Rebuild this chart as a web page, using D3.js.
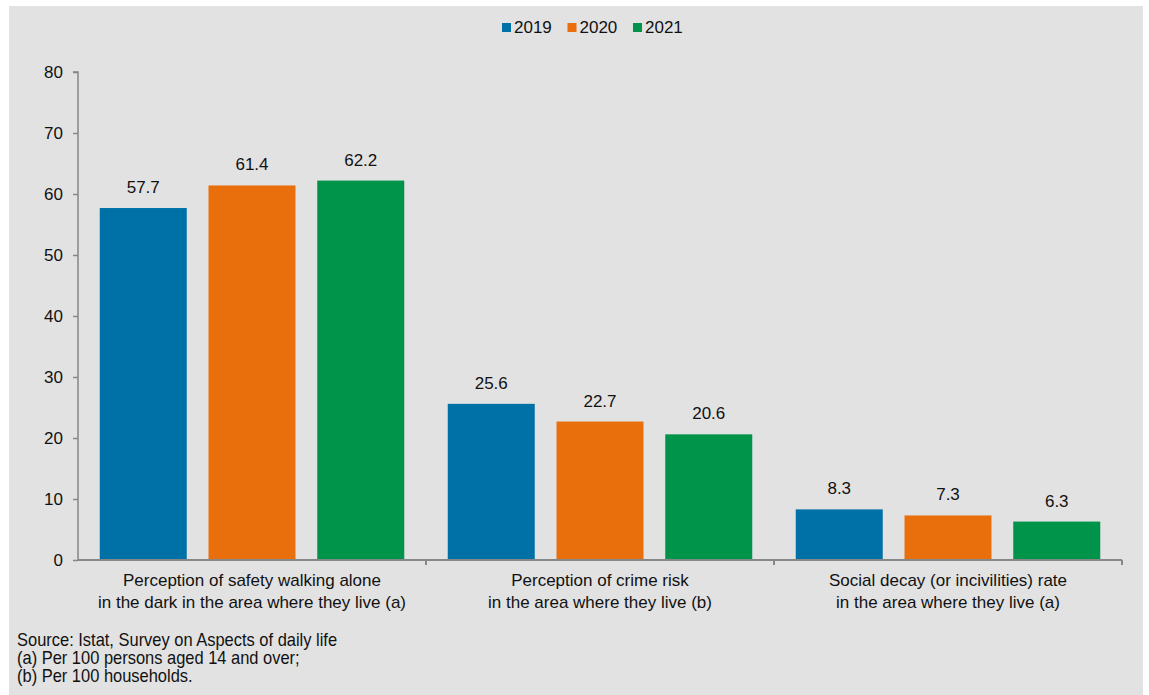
<!DOCTYPE html>
<html>
<head>
<meta charset="utf-8">
<script src="https://cdn.jsdelivr.net/npm/d3@7"></script>
<style>
  body { margin: 0; background: #fff; }
  text { font-family: "Liberation Sans", Arial, sans-serif; fill: #111; }
  .note { font-size: 18.5px; }
</style>
</head>
<body>
<div id="chart"></div>
<script>
let categories = [
  ['Perception of safety walking alone', 'in the dark in the area where they live (a)'],
  ['Perception of crime risk', 'in the area where they live (b)'],
  ['Social decay (or incivilities) rate', 'in the area where they live (a)']
]
let years = ['2019', '2020', '2021']
let values2019 = [57.7, 25.6, 8.3]
let values2020 = [61.4, 22.7, 7.3]
let values2021 = [62.2, 20.6, 6.3]
let yTicks = [0, 10, 20, 30, 40, 50, 60, 70, 80]
let notes = ['Source: Istat, Survey on Aspects of daily life', '(a) Per 100 persons aged 14 and over;', '(b) Per 100 households.']

let colors = ['#0071a7', '#e96e0c', '#00944a']
let series = [values2019, values2020, values2021]

let width = 1149,
  height = 695
let margin = { left: 78, right: 27, top: 72, bottom: 135 }

let svg = d3.select('#chart')
  .append('svg')
  .attr('width', width)
  .attr('height', height)

svg.append('rect')
  .attr('x', 9).attr('y', 6)
  .attr('width', 1134).attr('height', height - 6)
  .attr('fill', '#e2e2e2')

let x0 = d3.scaleBand()
  .domain(d3.range(categories.length))
  .range([margin.left, width - margin.right])

let x1 = d3.scaleBand()
  .domain(years)
  .range([0, x0.bandwidth()])
  .padding(0.2)

let y = d3.scaleLinear()
  .domain([0, 80])
  .range([height - margin.bottom, margin.top])

// bars
let groups = svg.selectAll('.group')
  .data(categories)
  .enter().append('g')
  .attr('class', 'group')
  .attr('transform', (d, i) => 'translate(' + x0(i) + ',0)')

groups.selectAll('rect')
  .data((d, i) => years.map((yr, j) => ({ year: yr, value: series[j][i], color: colors[j] })))
  .enter().append('rect')
  .attr('x', d => x1(d.year))
  .attr('y', d => y(d.value))
  .attr('width', x1.bandwidth())
  .attr('height', d => y(0) - y(d.value))
  .attr('fill', d => d.color)

groups.selectAll('.val')
  .data((d, i) => years.map((yr, j) => ({ year: yr, value: series[j][i] })))
  .enter().append('text')
  .attr('class', 'val')
  .attr('x', d => x1(d.year) + x1.bandwidth() / 2)
  .attr('y', d => y(d.value) - 15)
  .attr('text-anchor', 'middle')
  .style('font-size', '17px')
  .text(d => d.value.toFixed(1))

// y axis
let axisColor = '#878787'
let yAxis = svg.append('g')
  .attr('transform', 'translate(' + margin.left + ',0)')
  .call(d3.axisLeft(y).tickValues(yTicks).tickSize(5).tickPadding(10))
yAxis.select('.domain').attr('stroke', axisColor).attr('stroke-width', 1.5)
  .attr('d', 'M-5,' + y(80) + 'H0V' + y(0))
yAxis.selectAll('.tick line').attr('stroke', axisColor).attr('stroke-width', 1.5)
yAxis.selectAll('.tick text').style('font-size', '17px').style('font-family', '"Liberation Sans", Arial, sans-serif').attr('fill', '#111')

// x axis
let xAxis = svg.append('g')
  .attr('transform', 'translate(0,' + y(0) + ')')
xAxis.append('line')
  .attr('x1', margin.left).attr('x2', width - margin.right)
  .attr('stroke', axisColor).attr('stroke-width', 2)
xAxis.selectAll('.xtick')
  .data(d3.range(1, categories.length + 1))
  .enter().append('line')
  .attr('x1', i => x0.step() * i + margin.left)
  .attr('x2', i => x0.step() * i + margin.left)
  .attr('y1', 0).attr('y2', 5)
  .attr('stroke', axisColor).attr('stroke-width', 2)

categories.forEach((lines, i) => {
  let t = svg.append('text')
    .attr('text-anchor', 'middle')
    .attr('x', x0(i) + x0.bandwidth() / 2)
    .attr('y', y(0) + 26)
    .style('font-size', '17px')
  lines.forEach((line, k) => {
    t.append('tspan')
      .attr('x', x0(i) + x0.bandwidth() / 2)
      .attr('dy', k === 0 ? 0 : 22)
      .text(line)
  })
})

// legend
let legend = svg.append('g').attr('transform', 'translate(502,21)')
let legendX = [0, 65.5, 131]
years.forEach((yr, j) => {
  let g = legend.append('g').attr('transform', 'translate(' + legendX[j] + ',0)')
  g.append('rect').attr('width', 9).attr('height', 9).attr('y', 2).attr('fill', colors[j])
  g.append('text').attr('x', 12).attr('y', 12).style('font-size', '17px').text(yr)
})

// notes, condensed look
let noteG = svg.append('g').attr('transform', 'translate(17,0) scale(0.89,1)')
noteG.selectAll('.note')
  .data(notes)
  .enter().append('text')
  .attr('class', 'note')
  .attr('x', 0)
  .attr('y', (d, i) => 646.5 + i * 17.8)
  .text(d => d)
</script>
</body>
</html>
